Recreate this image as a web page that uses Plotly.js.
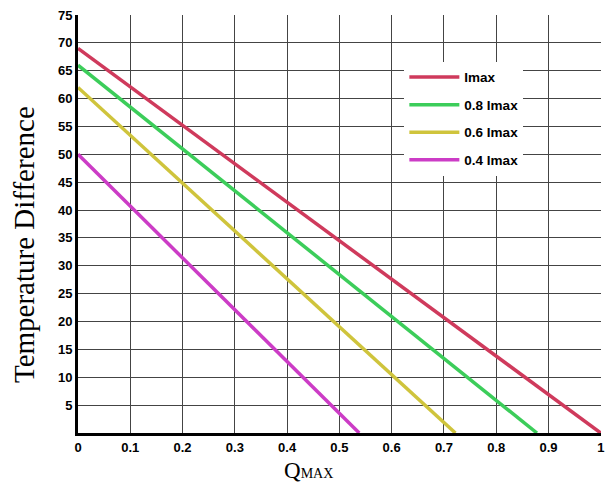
<!DOCTYPE html>
<html>
<head>
<meta charset="utf-8">
<script src="https://cdn.plot.ly/plotly-3.0.1.min.js"></script>
<style>html,body{margin:0;padding:0;background:#fff;}#chart{width:605px;height:485px;}</style>
</head>
<body>
<div id="chart"></div>
<script>
var seriesNames = ["Imax", "0.8 Imax", "0.6 Imax", "0.4 Imax"];
var seriesColors = ["#cf3a5c", "#3ccd5a", "#cfc43c", "#cc3cc6"];
var qImax = [0, 1.0];
var dtImax = [69, 0];
var q08 = [0, 0.878];
var dt08 = [66, 0];
var q06 = [0, 0.722];
var dt06 = [62, 0];
var q04 = [0, 0.538];
var dt04 = [50, 0];
var xTicks = [0, 0.1, 0.2, 0.3, 0.4, 0.5, 0.6, 0.7, 0.8, 0.9, 1];
var xTickText = ["0", "0.1", "0.2", "0.3", "0.4", "0.5", "0.6", "0.7", "0.8", "0.9", "1"];
var yTicks = [5, 10, 15, 20, 25, 30, 35, 40, 45, 50, 55, 60, 65, 70, 75];
var xTitle = "Q<span style=\"font-size:14px\">MAX</span>";
var yTitle = "Temperature Difference";

var xs = [qImax, q08, q06, q04];
var ys = [dtImax, dt08, dt06, dt04];
var traces = xs.map(function (x, i) {
  return {
    x: x, y: ys[i], type: "scatter", mode: "lines",
    name: seriesNames[i], legendgroup: "g" + i,
    line: {color: seriesColors[i], width: 3.5}
  };
});

var tickFont = {size: 13, family: "Liberation Sans, Arial, sans-serif", weight: "bold", color: "#000"};
var serif = "Liberation Serif, Times New Roman, serif";

var layout = {
  width: 605, height: 485,
  margin: {l: 78, r: 4, t: 15, b: 52},
  paper_bgcolor: "#fff", plot_bgcolor: "#fff",
  font: {family: "Liberation Sans, Arial, sans-serif", color: "#000"},
  xaxis: {
    range: [0, 1.0005], tickvals: xTicks, ticktext: xTickText,
    showgrid: true, gridcolor: "#444", gridwidth: 1,
    showline: true, linecolor: "#000", linewidth: 3,
    zeroline: false, ticks: "", tickfont: tickFont, ticklabeloverflow: "allow"
  },
  yaxis: {
    range: [0, 75], tickvals: yTicks,
    showgrid: true, gridcolor: "#444", gridwidth: 1,
    showline: true, linecolor: "#000", linewidth: 3,
    zeroline: false, ticks: "", tickfont: tickFont, ticklabeloverflow: "allow"
  },
  annotations: [
    {text: xTitle, xref: "paper", yref: "paper", x: 0.44, y: -0.055, xanchor: "center", yanchor: "top",
     showarrow: false, font: {family: serif, size: 23, color: "#000"}},
    {text: yTitle, xref: "paper", yref: "paper", x: -0.103, y: 0.45, xanchor: "center", yanchor: "middle",
     textangle: -90, showarrow: false, font: {family: serif, size: 29, color: "#000"}}
  ],
  showlegend: true,
  legend: {
    x: 0.624, y: 0.888, xanchor: "left", yanchor: "top",
    bgcolor: "#fff", borderwidth: 0,
    font: {size: 13.5, family: "Liberation Sans, Arial, sans-serif", weight: "bold", color: "#000"},
    tracegroupgap: 7, itemwidth: 50
  }
};

Plotly.newPlot("chart", traces, layout, {displayModeBar: false, staticPlot: true});
</script>
</body>
</html>
